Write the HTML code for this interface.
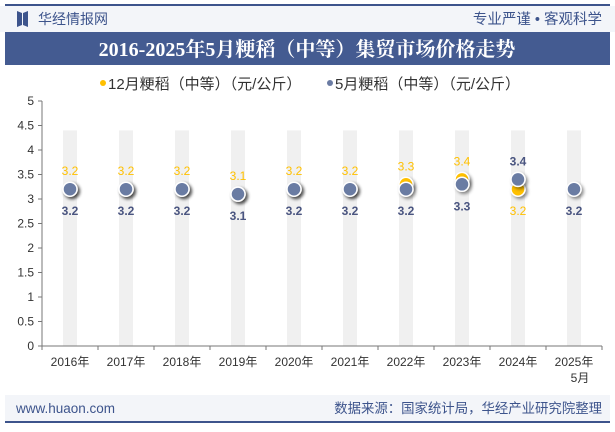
<!DOCTYPE html>
<html><head><meta charset="utf-8"><style>
body{margin:0;width:615px;height:427px;overflow:hidden;background:#fff;font-family:"Liberation Sans","Noto Sans CJK SC",sans-serif;}
</style></head><body>
<svg id="c" width="615" height="427" xmlns="http://www.w3.org/2000/svg">
<defs><filter id="sh" x="-50%" y="-50%" width="200%" height="200%"><feDropShadow dx="2" dy="2" stdDeviation="1.5" flood-color="#000" flood-opacity="0.45"/></filter></defs>
<rect x="0" y="6" width="615" height="26" fill="#f3f5f9"/>
<rect x="5" y="4" width="605" height="2" fill="#3d548c"/>
<path d="M17 11 L22 13 L22 25 L17 27 Z M23 13 L28 11 L28 27 L23 25 Z" fill="#3d548c"/>
<text x="38" y="24" font-size="14" fill="#3d548c">华经情报网</text>
<text x="602" y="24" font-size="14.5" fill="#3d548c" text-anchor="end">专业严谨 • 客观科学</text>
<rect x="5" y="32" width="605" height="33" fill="#445b91"/>
<text x="307" y="56" font-size="20" font-weight="bold" fill="#fff" text-anchor="middle" font-family="'Liberation Serif','Noto Serif CJK SC',serif">2016-2025年5月粳稻（中等）集贸市场价格走势</text>
<circle cx="103" cy="83" r="3" fill="#ffc000"/>
<text x="108" y="89" font-size="15" fill="#333">12月粳稻（中等）（元/公斤）</text>
<circle cx="330" cy="83" r="3" fill="#6a7ba3"/>
<text x="335" y="89" font-size="15" fill="#333">5月粳稻（中等）（元/公斤）</text>
<g id="plot"></g>
<rect x="5" y="395" width="605" height="26" fill="#f3f5f9"/>
<rect x="5" y="421" width="605" height="2" fill="#3d548c"/>
<text x="16" y="413" font-size="13.5" fill="#3d548c">www.huaon.com</text>
<text x="602" y="413" font-size="13.4" fill="#3d548c" text-anchor="end">数据来源：国家统计局，华经产业研究院整理</text>
</svg>
<script>
const categories=["2016年","2017年","2018年","2019年","2020年","2021年","2022年","2023年","2024年","2025年"];
const decValues=[3.2,3.2,3.2,3.1,3.2,3.2,3.3,3.4,3.2,null];
const mayValues=[3.2,3.2,3.2,3.1,3.2,3.2,3.2,3.3,3.4,3.2];
const yTicks=[0,0.5,1,1.5,2,2.5,3,3.5,4,4.5,5];
const yTickLabels=["0","0.5","1","1.5","2","2.5","3","3.5","4","4.5","5"];
const NS="http://www.w3.org/2000/svg";
const g=document.getElementById('plot');
const x0=42,x1=602,y0=346,y1=101;
const band=(x1-x0)/categories.length;
const X=i=>x0+band*(i+0.5);
const Y=v=>y0-(v/5)*(y0-y1);
function mk(t,a,txt){const e=document.createElementNS(NS,t);for(const k in a)e.setAttribute(k,a[k]);if(txt!=null)e.textContent=txt;g.appendChild(e);return e;}
categories.forEach((c,i)=>{
 const b=mk('rect',{x:X(i)-7,y:Y(4.4),width:14,height:y0-Y(4.4),fill:'#f0f0f0'});
 
 
});
let ax=mk('line',{x1:x0,y1:y1,x2:x0,y2:y0,stroke:'#777'});


ax=mk('line',{x1:x0,y1:y0,x2:x1,y2:y0,stroke:'#777'});


yTicks.forEach((v,i)=>{
 mk('line',{x1:x0-4,y1:Y(v),x2:x0,y2:Y(v),stroke:'#777'});
 const t=mk('text',{x:x0-8,y:Y(v)+4,'font-size':12,fill:'#333','text-anchor':'end'},yTickLabels[i]);
 
 
});
for(let i=0;i<=categories.length;i++){mk('line',{x1:x0+band*i,y1:y0,x2:x0+band*i,y2:y0+4,stroke:'#777'});}
categories.forEach((c,i)=>{
 const t=mk('text',{x:X(i),y:366,'font-size':12,fill:'#333','text-anchor':'middle'},c);
 
 
 if(i===categories.length-1){const t2=mk('text',{x:X(i)+6,y:382,'font-size':12,fill:'#333','text-anchor':'middle'},'5月');
 
 }
});
decValues.forEach((v,i)=>{
 if(v==null)return;
 const p=mk('circle',{cx:X(i),cy:Y(v),r:7,fill:'#ffc000',stroke:'#fff','stroke-width':1.5,filter:'url(#sh)'});
 
 
});
mayValues.forEach((v,i)=>{
 const p=mk('circle',{cx:X(i),cy:Y(v),r:7,fill:'#6a7ba3',stroke:'#fff','stroke-width':1.5,filter:'url(#sh)'});
 
 
});
categories.forEach((c,i)=>{
 const d=decValues[i],m=mayValues[i];
 const decAbove=d==null||d>=m;
 if(d!=null){
  const t=mk('text',{x:X(i),y:decAbove?Y(Math.max(d,m))-14:Y(Math.min(d,m))+26,'font-size':12,fill:'#ffc000','text-anchor':'middle'},d.toFixed(1));
  
  
 }
 const t=mk('text',{x:X(i),y:decAbove?Y(Math.min(d==null?m:d,m))+26:Y(Math.max(d,m))-14,'font-size':12,'font-weight':'bold',fill:'#4a5580','text-anchor':'middle'},m.toFixed(1));
 
 
});
</script>
</body></html>
